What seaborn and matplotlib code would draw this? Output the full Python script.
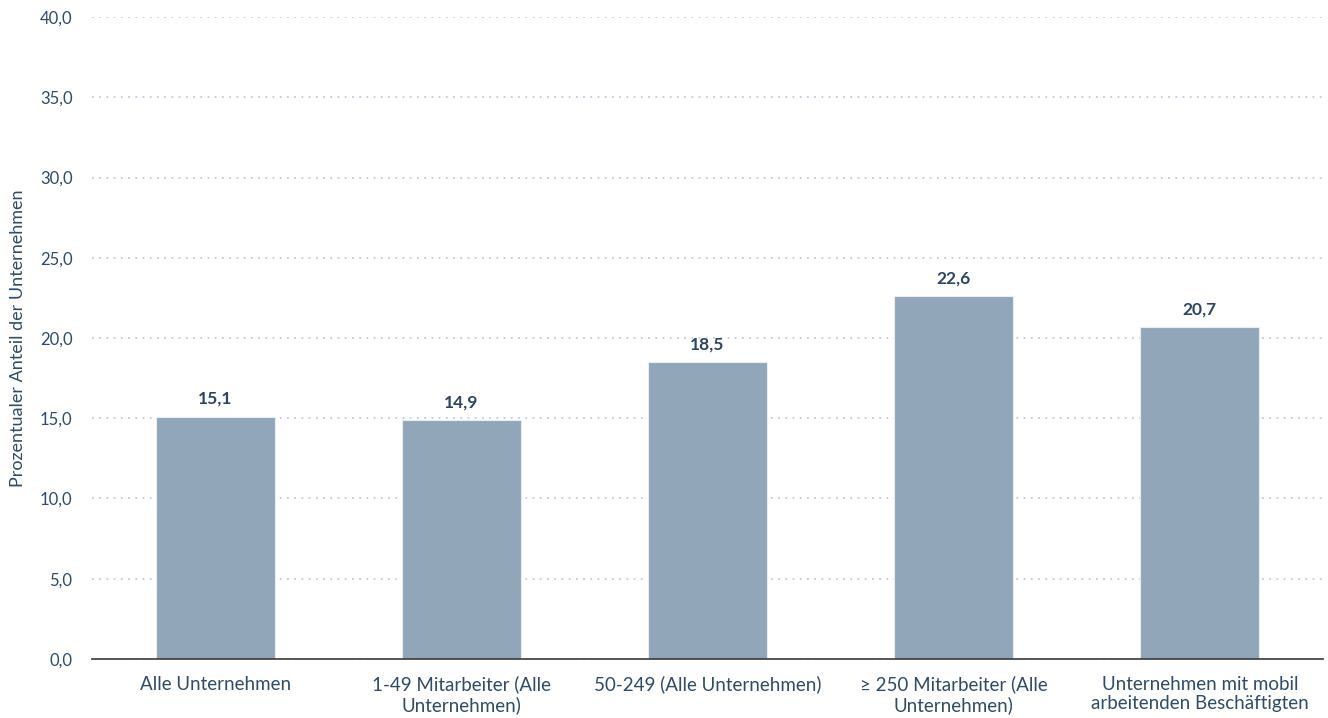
import matplotlib
matplotlib.use("Agg")
import matplotlib.pyplot as plt
import seaborn as sns
import pandas as pd

categories = ["Alle Unternehmen", "1-49 Mitarbeiter (Alle\nUnternehmen)", "50-249 (Alle Unternehmen)",
              "≥ 250 Mitarbeiter (Alle\nUnternehmen)", "Unternehmen mit mobil\narbeitenden Beschäftigten"]
values = [15.1, 14.9, 18.5, 22.6, 20.7]
yticks = [0, 5, 10, 15, 20, 25, 30, 35, 40]
ylabel = "Prozentualer Anteil der Unternehmen"

sns.set_theme(style="white")
plt.rcParams['font.family'] = ['Lato', 'DejaVu Sans']

df = pd.DataFrame({"cat": categories, "val": values})
fig = plt.figure(figsize=(13.28, 7.18), dpi=100)
ax = fig.add_axes([0.0693, 0.0822, 0.9269, 0.8941])

sns.barplot(data=df, x="cat", y="val", color="#92a6ba", saturation=1, width=0.484,
            ax=ax, edgecolor="#e8edf2", linewidth=0.8)

ax.set_ylim(0, 40)
ax.set_xlim(-0.5, 4.5)
ax.set_yticks(yticks)
ax.set_yticklabels([f"{t:.1f}".replace(".", ",") for t in yticks])
ax.yaxis.grid(True, linestyle=(0, (1, 3)), color="#bfcddb", linewidth=1.3)
ax.set_axisbelow(True)
for s in ["top", "right", "left"]:
    ax.spines[s].set_visible(False)
ax.spines["bottom"].set_color("#3a3a3a")
ax.spines["bottom"].set_linewidth(1.2)
ax.tick_params(axis="y", length=0, labelsize=12, colors="#2f4b68", pad=14)
ax.tick_params(axis="x", length=0, labelsize=13.5, colors="#2f4b68", pad=12)
for lab in ax.get_xticklabels():
    lab.set_linespacing(1.15)
ax.set_xlabel("")
ax.set_ylabel(ylabel, fontsize=13, color="#2f4b68", labelpad=10)

for i, v in enumerate(values):
    ax.annotate(f"{v:.1f}".replace(".", ","), (i, v), xytext=(0, 7), textcoords="offset points",
                ha="center", va="bottom", fontsize=12.5, fontweight="bold", color="#2d4561")

fig.savefig("out.png", dpi=100)
